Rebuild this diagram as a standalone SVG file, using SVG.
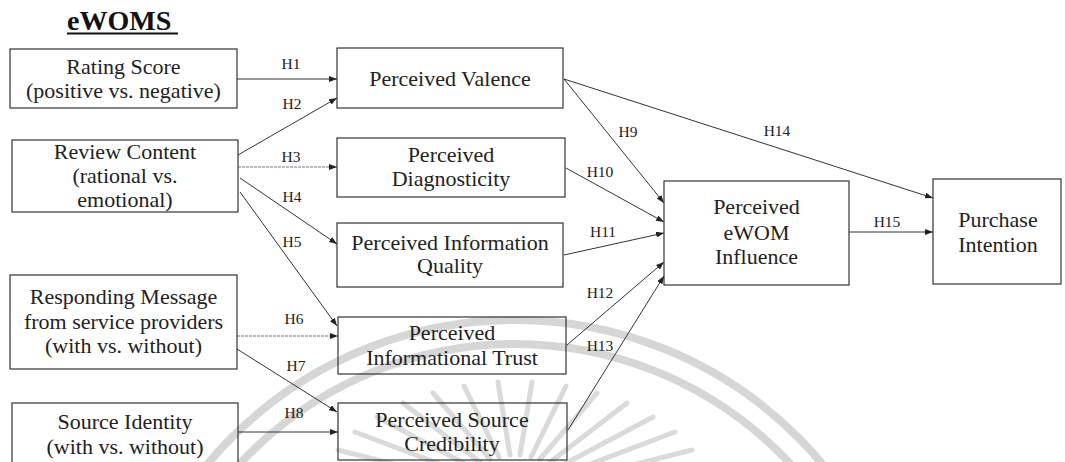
<svg xmlns="http://www.w3.org/2000/svg" width="1065" height="462" viewBox="0 0 1065 462">
  <style>
    .box { fill: none; stroke: #333; stroke-width: 1.2; }
    .lbl { font-family: "Liberation Serif", "Times New Roman", serif; font-size: 22px; fill: #222; text-anchor: middle; }
    .hyp { font-family: "Liberation Serif", "Times New Roman", serif; font-size: 15.5px; fill: #222; text-anchor: middle; }
    .edge { fill: none; stroke: #333; stroke-width: 1; marker-end: url(#arrow); }
    .faint { stroke: #777; stroke-dasharray: 3 1; }
    .ring { fill: none; stroke: #d6d6d6; stroke-width: 8; }
    .ray { stroke: #dadada; stroke-width: 5; stroke-linecap: round; }
  </style>
  <defs>
    <marker id="arrow" markerUnits="userSpaceOnUse" markerWidth="8" markerHeight="6" refX="8" refY="3" orient="auto">
      <path d="M0,0 L8,3 L0,6 z" fill="#222"/>
    </marker>
  </defs>

  <rect width="1065" height="462" fill="#fff"/>

  <!-- seal in the background: two rings and a sunburst -->
  <g id="seal">
    <circle class="ring" cx="515" cy="720" r="400"/>
    <circle class="ring" cx="515" cy="720" r="376"/>
    <line class="ray" x1="457" y1="488" x2="327" y2="469"/>
    <line class="ray" x1="461" y1="481" x2="338" y2="450"/>
    <line class="ray" x1="466" y1="474" x2="355" y2="432"/>
    <line class="ray" x1="473" y1="468" x2="377" y2="417"/>
    <line class="ray" x1="481" y1="463" x2="403" y2="403"/>
    <line class="ray" x1="490" y1="459" x2="433" y2="393"/>
    <line class="ray" x1="499" y1="457" x2="464" y2="386"/>
    <line class="ray" x1="510" y1="455" x2="498" y2="382"/>
    <line class="ray" x1="520" y1="455" x2="532" y2="382"/>
    <line class="ray" x1="531" y1="457" x2="566" y2="386"/>
    <line class="ray" x1="540" y1="459" x2="597" y2="393"/>
    <line class="ray" x1="549" y1="463" x2="627" y2="403"/>
    <line class="ray" x1="557" y1="468" x2="653" y2="417"/>
    <line class="ray" x1="564" y1="474" x2="675" y2="432"/>
    <line class="ray" x1="569" y1="481" x2="692" y2="450"/>
    <line class="ray" x1="573" y1="488" x2="703" y2="469"/>
  </g>

  <!-- title -->
  <g id="title">
    <text x="67" y="30" font-family="'Liberation Serif', 'Times New Roman', serif" font-size="28" font-weight="bold" fill="#111">eWOMS</text>
    <line x1="67" y1="33.5" x2="178" y2="33.5" stroke="#111" stroke-width="2"/>
  </g>

  <!-- connectors -->
  <g id="connectors">
    <line class="edge" x1="237" y1="79" x2="337" y2="79"/>
    <line class="edge" x1="238" y1="155" x2="337" y2="98"/>
    <line class="edge faint" x1="238" y1="167" x2="337" y2="167"/>
    <line class="edge" x1="240" y1="178" x2="337" y2="244"/>
    <line class="edge" x1="240" y1="192" x2="337" y2="326"/>
    <line class="edge faint" x1="237" y1="336" x2="338" y2="336"/>
    <line class="edge" x1="237" y1="349" x2="337" y2="412"/>
    <line class="edge" x1="238" y1="432" x2="338" y2="432"/>
    <line class="edge" x1="564" y1="79" x2="664" y2="203"/>
    <line class="edge" x1="566" y1="168" x2="664" y2="222"/>
    <line class="edge" x1="564" y1="255" x2="664" y2="233"/>
    <line class="edge" x1="567" y1="345" x2="664" y2="262"/>
    <line class="edge" x1="568" y1="430" x2="664" y2="276"/>
    <line class="edge" x1="564" y1="79" x2="933" y2="198"/>
    <line class="edge" x1="849" y1="232" x2="933" y2="232"/>

    <text class="hyp" x="291" y="69">H1</text>
    <text class="hyp" x="292" y="109">H2</text>
    <text class="hyp" x="291" y="162">H3</text>
    <text class="hyp" x="292" y="202">H4</text>
    <text class="hyp" x="292" y="247">H5</text>
    <text class="hyp" x="294" y="324">H6</text>
    <text class="hyp" x="296" y="371">H7</text>
    <text class="hyp" x="294" y="418">H8</text>
    <text class="hyp" x="628" y="137">H9</text>
    <text class="hyp" x="600" y="177">H10</text>
    <text class="hyp" x="603" y="237">H11</text>
    <text class="hyp" x="600" y="298">H12</text>
    <text class="hyp" x="600" y="351">H13</text>
    <text class="hyp" x="777" y="136">H14</text>
    <text class="hyp" x="887" y="227">H15</text>
  </g>

  <!-- independent variables -->
  <g id="rating-score">
    <rect class="box" x="10" y="49" width="227" height="59"/>
    <text class="lbl" x="123.5" y="74">Rating Score</text>
    <text class="lbl" x="123.5" y="98">(positive vs. negative)</text>
  </g>
  <g id="review-content">
    <rect class="box" x="12" y="140" width="226" height="72"/>
    <text class="lbl" x="125" y="159">Review Content</text>
    <text class="lbl" x="125" y="183">(rational vs.</text>
    <text class="lbl" x="125" y="207">emotional)</text>
  </g>
  <g id="responding-message">
    <rect class="box" x="10" y="275" width="227" height="94"/>
    <text class="lbl" x="123.5" y="304">Responding Message</text>
    <text class="lbl" x="123.5" y="329">from service providers</text>
    <text class="lbl" x="123.5" y="353">(with vs. without)</text>
  </g>
  <g id="source-identity">
    <rect class="box" x="12" y="403" width="226" height="62"/>
    <text class="lbl" x="125" y="429">Source Identity</text>
    <text class="lbl" x="125" y="454">(with vs. without)</text>
  </g>

  <!-- mediators -->
  <g id="perceived-valence">
    <rect class="box" x="337" y="48" width="226" height="60"/>
    <text class="lbl" x="450" y="86">Perceived Valence</text>
  </g>
  <g id="perceived-diagnosticity">
    <rect class="box" x="337" y="138" width="228" height="59"/>
    <text class="lbl" x="451" y="162">Perceived</text>
    <text class="lbl" x="451" y="186">Diagnosticity</text>
  </g>
  <g id="perceived-information-quality">
    <rect class="box" x="337" y="223" width="226" height="64"/>
    <text class="lbl" x="450" y="250">Perceived Information</text>
    <text class="lbl" x="450" y="273">Quality</text>
  </g>
  <g id="perceived-informational-trust">
    <rect class="box" x="338" y="317" width="228" height="57"/>
    <text class="lbl" x="452" y="340">Perceived</text>
    <text class="lbl" x="452" y="365">Informational Trust</text>
  </g>
  <g id="perceived-source-credibility">
    <rect class="box" x="338" y="403" width="229" height="57"/>
    <text class="lbl" x="452" y="427">Perceived Source</text>
    <text class="lbl" x="452" y="451">Credibility</text>
  </g>

  <!-- outcomes -->
  <g id="perceived-ewom-influence">
    <rect class="box" x="664" y="181" width="185" height="104"/>
    <text class="lbl" x="756.5" y="214">Perceived</text>
    <text class="lbl" x="756.5" y="240">eWOM</text>
    <text class="lbl" x="756.5" y="264">Influence</text>
  </g>
  <g id="purchase-intention">
    <rect class="box" x="933" y="179" width="128" height="105"/>
    <text class="lbl" x="998" y="227">Purchase</text>
    <text class="lbl" x="998" y="252">Intention</text>
  </g>
</svg>
